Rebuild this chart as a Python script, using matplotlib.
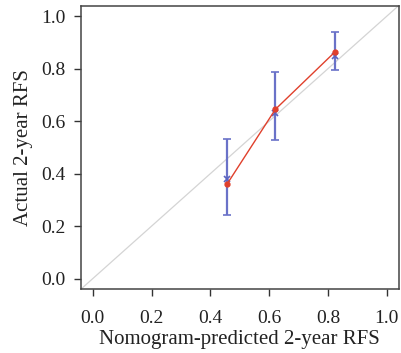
import numpy as np
import matplotlib
matplotlib.use('Agg')
from matplotlib import pyplot as plt

# calibration data
predicted = [0.456, 0.621, 0.823]
observed = [0.359, 0.645, 0.863]
corrected = [0.380, 0.631, 0.850]
err_low = [0.242, 0.527, 0.793]
err_high = [0.532, 0.789, 0.940]
ticks = [0.0, 0.2, 0.4, 0.6, 0.8, 1.0]

plt.rcParams['font.family'] = ['Liberation Serif', 'DejaVu Serif']

fig = plt.figure(figsize=(4.01, 3.53), dpi=100)
ax = fig.add_axes([0.202, 0.181, 0.792, 0.803])

# ideal line
ax.plot([-0.04, 1.04], [-0.04, 1.04], color='#d4d4d4', lw=0.9, zorder=1)

pred = np.array(predicted)
lo = np.array(corrected) - np.array(err_low)
hi = np.array(err_high) - np.array(corrected)
ax.errorbar(pred, corrected, yerr=[lo, hi], fmt='x', color='#5b63c0',
            ecolor='#6a72c8', elinewidth=1.6, capsize=3, capthick=1.4,
            markersize=4, mew=1.2, zorder=2)
ax.plot(pred, observed, color='#e0402c', lw=1.0, marker='o', markersize=3.5, zorder=3)

ax.set_xlim(-0.04, 1.04)
ax.set_ylim(-0.04, 1.04)
ax.set_xticks(ticks)
ax.set_yticks(ticks)
ax.set_xticklabels(['%.1f' % t for t in ticks])
ax.set_yticklabels(['%.1f' % t for t in ticks])
ax.tick_params(labelsize=14, length=5, width=1, colors='#333333', labelcolor='#222222')
ax.tick_params(axis='x', pad=10)
ax.tick_params(axis='y', pad=6)
for s in ax.spines.values():
    s.set_color('#444444')
    s.set_linewidth(1.1)
ax.set_xlabel('Nomogram-predicted 2-year RFS', fontsize=15, color='#222222', labelpad=2)
ax.set_ylabel('Actual 2-year RFS', fontsize=15, color='#222222', labelpad=6)

fig.savefig('out.png', dpi=100)
